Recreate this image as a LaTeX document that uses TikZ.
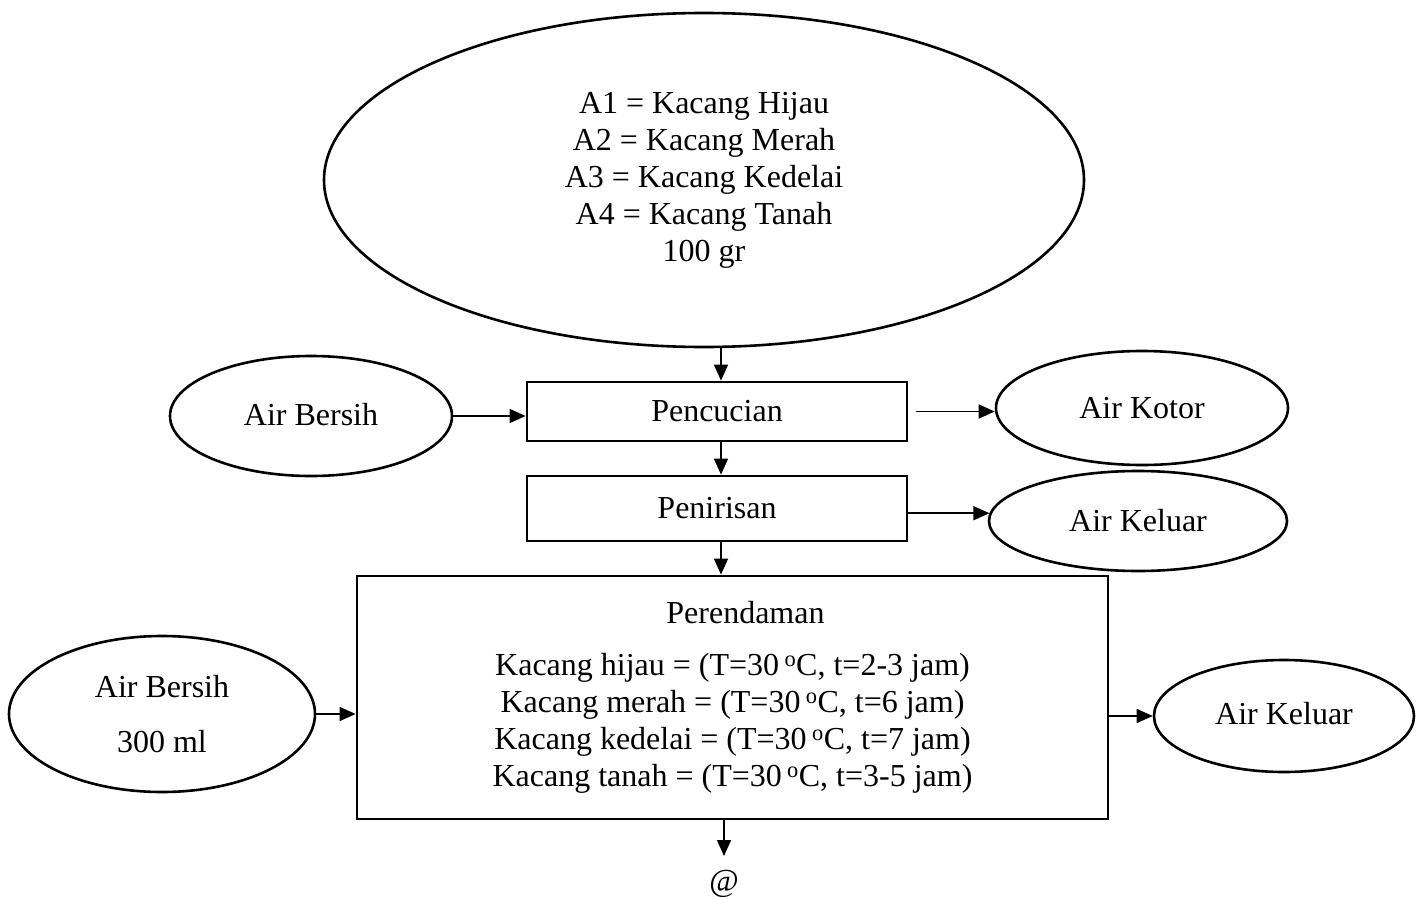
\documentclass[tikz,border=0pt]{standalone}
\usepackage{fontspec}
\setmainfont{Liberation Serif}
\usetikzlibrary{shapes.geometric,arrows.meta}
\begin{document}
\begin{tikzpicture}[x=1pt,y=-1pt,
  font=\fontsize{32}{37}\selectfont,
  ell/.style={draw,ellipse,line width=2.6pt,inner sep=0pt,align=center},
  procbox/.style={draw,rectangle,line width=2.8pt,inner sep=0pt,align=center},
  arr/.style={line width=1.5pt,-{Triangle[length=16pt,width=14pt]}}]
\useasboundingbox (0,0) rectangle (1419,899);
\coordinate (cx) at (721,0);
\node[ell,minimum width=760pt,minimum height=334pt] (src) at (704,180)
  {A1 = Kacang Hijau\\A2 = Kacang Merah\\A3 = Kacang Kedelai\\A4 = Kacang Tanah\\100 gr};
\node[procbox,minimum width=380pt,minimum height=59pt] (pc) at (717,411.5) {Pencucian};
\node[procbox,minimum width=380pt,minimum height=65pt] (pn) at (717,508.5) {Penirisan};
\node[procbox,minimum width=751pt,minimum height=243pt] (per) at (732.5,697.5)
  {\hspace*{26pt}Perendaman\\[15pt]
   Kacang hijau = (T=30\,\textsuperscript{o}C, t=2-3 jam)\\
   Kacang merah = (T=30\,\textsuperscript{o}C, t=6 jam)\\
   Kacang kedelai = (T=30\,\textsuperscript{o}C, t=7 jam)\\
   Kacang tanah = (T=30\,\textsuperscript{o}C, t=3-5 jam)};
\node[ell,minimum width=282pt,minimum height=120pt] (ab1) at (311,416) {\raisebox{4pt}{Air Bersih}};
\node[ell,minimum width=292pt,minimum height=114pt] (ak1) at (1142,408) {Air Kotor};
\node[ell,minimum width=298pt,minimum height=100pt] (ak2) at (1138,521) {Air Keluar};
\node[ell,minimum width=306pt,minimum height=156pt] (ab2) at (162,714) {Air Bersih\\[18pt]300 ml};
\node[ell,minimum width=260pt,minimum height=112pt] (ak3) at (1284,716) {\raisebox{6pt}{Air Keluar}};
\coordinate (atend) at (724,856);
\node (at) at (724,884) {@};
\draw[arr] (src.south -| cx) -- (pc.north -| cx);
\draw[arr] (pc.south -| cx) -- (pn.north -| cx);
\draw[arr] (pn.south -| cx) -- (per.north -| cx);
\draw[arr] (ab1.east) -- (pc.west |- ab1.east);
\draw[arr] ([xshift=8pt]pc.east) -- (ak1.west |- pc.east);
\draw[arr] (pn.east |- ak2.177) -- (ak2.177);
\draw[arr] (ab2.east) -- (per.west |- ab2.east);
\draw[arr] (per.east |- ak3.west) -- (ak3.west);
\draw[arr] (per.south -| atend) -- (atend);
\end{tikzpicture}
\end{document}
